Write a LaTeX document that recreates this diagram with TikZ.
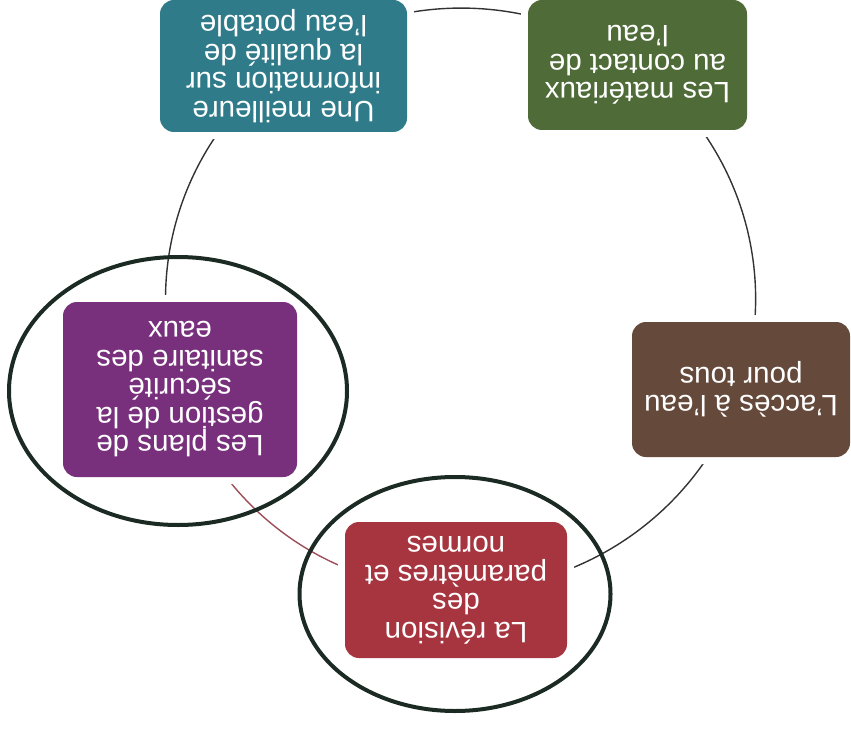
\documentclass[tikz,border=0pt]{standalone}
\usepackage{fontspec}
\setmainfont{Liberation Sans}
\usepackage{tikz}
\usetikzlibrary{backgrounds}
\definecolor{boxteal}{HTML}{2F7B8A}
\definecolor{boxgreen}{HTML}{4F6B38}
\definecolor{boxbrown}{HTML}{65493A}
\definecolor{boxred}{HTML}{A6353F}
\definecolor{boxpurple}{HTML}{78307C}
\definecolor{ringgray}{HTML}{333333}
\definecolor{ringred}{HTML}{9E4E57}
\definecolor{markdark}{HTML}{1C2A24}
\tikzset{
  cyclebox/.style={
    rounded corners=14pt,
    text=white,
    align=center,
    inner sep=0pt,
    rotate=180,
    font=\fontsize{29.5}{28.5}\selectfont,
    preaction={draw=white, line width=14pt}
  },
  ringarc/.style={draw=ringgray, line width=1.4pt, bend right=36, looseness=0.94},
  markring/.style={draw=markdark, line width=4pt}
}

\begin{document}
\begin{tikzpicture}[x=1pt, y=1pt]
\useasboundingbox (0,0) rectangle (851,-730);
\node[cyclebox, fill=boxteal, minimum width=247pt, minimum height=132pt] (qualite) at (283.5,-66) {Une meilleure\\information sur\\la qualité de\\l'eau potable};
\node[cyclebox, fill=boxgreen, minimum width=219pt, minimum height=130pt] (materiaux) at (637.5,-65) {Les matériaux\\au contact de\\l'eau};
\node[cyclebox, fill=boxbrown, minimum width=218pt, minimum height=135pt] (acces) at (741,-389.5) {L'accès à l'eau\\pour tous};
\node[cyclebox, fill=boxred, minimum width=222pt, minimum height=136pt] (revision) at (456,-590) {La révision\\des\\paramètres et\\normes};
\node[cyclebox, fill=boxpurple, minimum width=234pt, minimum height=175pt] (plans) at (180,-389.5) {Les plans de\\gestion de la\\sécurité\\sanitaire des\\eaux};

% cycle, behind the boxes
\begin{scope}[on background layer]
\draw[ringarc] (revision.center) to (acces.center);
\draw[ringarc] (acces.center) to (materiaux.center);
\draw[ringarc] (materiaux.center) to (qualite.center);
\draw[ringarc] (qualite.center) to (plans.center);
\draw[ringarc, draw=ringred] (plans.center) to (revision.center);
\end{scope}

% hand-drawn marks
\draw[markring] (178,-391) ellipse [x radius=169, y radius=134];
\draw[markring] (455,-594) ellipse [x radius=155.5, y radius=117];
\end{tikzpicture}
\end{document}
